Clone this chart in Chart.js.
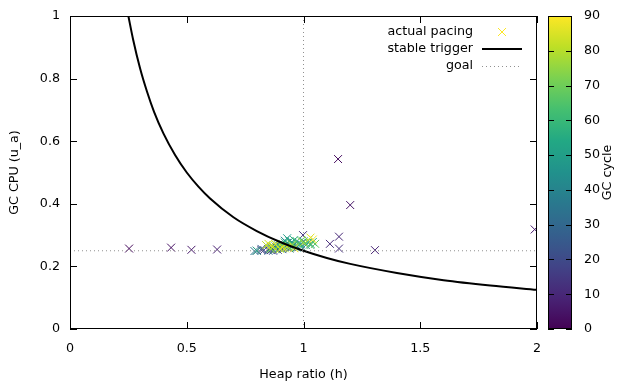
<!DOCTYPE html>
<html>
<head>
<meta charset="utf-8">
<script src="https://cdn.jsdelivr.net/npm/chart.js@4"></script>
<style>html,body{margin:0;background:#fff}</style>
</head>
<body>
<canvas id="paceChart" width="640" height="384"></canvas>
<script>
// GC cycle number of each observation
const cycles = [
  2,3,4,5,6,7,8,9,10,11,12,13,14,15,
  16,17,18,19,20,21,22,23,24,25,26,27,28,29,30,31,32,33,34,35,
  36,37,38,39,40,41,42,43,44,45,46,47,48,49,50,51,52,53,54,55,
  56,57,58,59,60,61,62,63,64,65,66,67,68,69,70,71,72,
  73,74,75,76,77,78,79,80,81,82,83,84,85,86,87,88,89,90
];
// heap ratio (h) per cycle
const heapRatio = [
  0.253,1.148,0.433,1.2,0.52,1.99,0.63,1.306,1.152,1.113,1.152,0.998,0.82,0.86,
  0.80,0.83,0.87,0.85,0.89,0.88,0.91,0.86,0.93,0.90,0.82,0.95,0.87,0.92,0.89,0.94,0.97,0.85,0.91,0.99,
  0.79,0.93,0.96,0.88,1.01,0.92,0.95,0.90,0.98,1.03,0.94,0.86,1.00,0.97,0.93,1.02,0.91,0.99,0.96,0.80,
  0.94,1.04,0.92,0.98,0.89,1.01,0.95,0.87,0.97,1.03,0.93,0.90,1.05,0.96,0.99,0.88,0.94,
  0.91,1.02,0.86,0.95,0.89,0.92,1.00,0.84,0.87,0.90,0.85,0.93,0.88,1.03,0.91,0.86,1.04,0.96
];
// GC CPU utilisation (u_a) per cycle
const gcCpu = [
  0.257,0.543,0.260,0.396,0.253,0.318,0.254,0.252,0.295,0.272,0.257,0.300,0.252,0.252,
  0.250,0.252,0.250,0.255,0.253,0.258,0.255,0.262,0.260,0.265,0.256,0.262,0.254,0.268,0.260,0.257,0.266,0.250,0.262,0.270,
  0.249,0.275,0.270,0.264,0.268,0.282,0.278,0.270,0.276,0.272,0.268,0.258,0.280,0.260,0.290,0.276,0.272,0.264,0.284,0.250,
  0.280,0.278,0.276,0.270,0.268,0.274,0.272,0.262,0.280,0.268,0.266,0.258,0.272,0.264,0.282,0.255,0.260,
  0.266,0.284,0.256,0.268,0.262,0.258,0.276,0.268,0.264,0.256,0.272,0.262,0.270,0.292,0.260,0.266,0.286,0.258
];
// stable trigger curve
const triggerH = [0.25,0.27,0.3,0.33,0.36,0.4,0.45,0.5,0.55,0.6,0.7,0.8,0.9,1.0,1.1,1.2,1.4,1.6,1.8,2.0];
const triggerU = [1.0,0.926,0.833,0.758,0.694,0.625,0.556,0.5,0.455,0.417,0.357,0.313,0.278,0.25,0.227,0.208,0.179,0.156,0.139,0.125];
// goal
const goalH = [0, 2];
const goalU = [0.25, 0.25];
const goalLineH = [1, 1];
const goalLineU = [0, 1];

const xTicks = [0, 0.5, 1, 1.5, 2];
const yTicks = [0, 0.2, 0.4, 0.6, 0.8, 1];
const cbTicks = [0, 10, 20, 30, 40, 50, 60, 70, 80, 90];
const cbMax = 90;

const FONT = {family: "'DejaVu Sans', sans-serif", size: 12.7};
const fontStr = "12.7px 'DejaVu Sans', sans-serif";

const viridisStops = ['#440154','#482475','#414487','#355f8d','#2a788e','#21918c','#22a884','#44bf70','#7ad151','#bddf26','#fde725'];

function hexRgb(h){ return [1,3,5].map(i => parseInt(h.substr(i,2),16)); }
function viridis(t){
  t = Math.max(0, Math.min(1, t));
  const p = t * (viridisStops.length - 1);
  const i = Math.min(Math.floor(p), viridisStops.length - 2);
  const f = p - i;
  const a = hexRgb(viridisStops[i]), b = hexRgb(viridisStops[i+1]);
  const c = a.map((v,k) => Math.round(v + (b[k]-v)*f));
  return 'rgb(' + c.join(',') + ')';
}

function fixTicks(vals){
  return scale => { scale.ticks = vals.map(v => ({value: v})); };
}
function fixWidth(w){
  return s => { s.width = w; s.paddingTop = 0; s.paddingBottom = 0; };
}
const fmt = v => String(Math.round(v*10)/10);

// frame, inward mirrored ticks, colour box, key
const gnuplotDecor = {
  id: 'gnuplotDecor',
  afterDraw(chart){
    const {ctx, chartArea: a, scales} = chart;
    const tl = 7;
    ctx.save();
    ctx.strokeStyle = '#000';
    ctx.lineWidth = 1;
    ctx.strokeRect(a.left + 0.5, a.top + 0.5, a.right - a.left - 1, a.bottom - a.top - 1);
    ctx.beginPath();
    xTicks.forEach(v => {
      const px = Math.round(scales.x.getPixelForValue(v)) + 0.5;
      ctx.moveTo(px, a.bottom); ctx.lineTo(px, a.bottom - tl);
      ctx.moveTo(px, a.top); ctx.lineTo(px, a.top + tl);
    });
    yTicks.forEach(v => {
      const py = Math.round(scales.y.getPixelForValue(v)) + 0.5;
      ctx.moveTo(a.left, py); ctx.lineTo(a.left + tl, py);
      ctx.moveTo(a.right, py); ctx.lineTo(a.right - tl, py);
    });
    ctx.stroke();

    // colour box
    const cb = scales.cb;
    const bx = 548, bw = 24;
    const top = cb.getPixelForValue(cbMax), bot = cb.getPixelForValue(0);
    const g = ctx.createLinearGradient(0, bot, 0, top);
    for (let i = 0; i <= 20; i++) g.addColorStop(i/20, viridis(i/20));
    ctx.fillStyle = g;
    ctx.fillRect(bx, top, bw, bot - top);
    ctx.strokeRect(bx + 0.5, top + 0.5, bw - 1, bot - top - 1);
    ctx.beginPath();
    cbTicks.forEach(v => {
      const py = Math.round(cb.getPixelForValue(v)) + 0.5;
      ctx.moveTo(bx, py); ctx.lineTo(bx + 6, py);
      ctx.moveTo(bx + bw, py); ctx.lineTo(bx + bw - 6, py);
    });
    ctx.stroke();

    ctx.fillStyle = '#000';
    ctx.font = fontStr;
    ctx.save();
    ctx.translate(608, (top + bot) / 2);
    ctx.rotate(-Math.PI / 2);
    ctx.textAlign = 'center';
    ctx.textBaseline = 'middle';
    ctx.fillText('GC cycle', 0, 0);
    ctx.restore();

    // key
    const kx = 473, sx0 = 482, sx1 = 522;
    ctx.textAlign = 'right';
    ctx.textBaseline = 'middle';
    ctx.fillText('actual pacing', kx, 32);
    ctx.fillText('stable trigger', kx, 49);
    ctx.fillText('goal', kx, 66);
    ctx.strokeStyle = viridis(1);
    ctx.beginPath();
    ctx.moveTo(498, 28); ctx.lineTo(506, 36);
    ctx.moveTo(506, 28); ctx.lineTo(498, 36);
    ctx.stroke();
    ctx.strokeStyle = '#000';
    ctx.lineWidth = 2;
    ctx.beginPath(); ctx.moveTo(sx0, 49); ctx.lineTo(sx1, 49); ctx.stroke();
    ctx.strokeStyle = '#909090';
    ctx.lineWidth = 1;
    ctx.setLineDash([1, 3]);
    ctx.beginPath(); ctx.moveTo(sx0, 66.5); ctx.lineTo(sx1, 66.5); ctx.stroke();
    ctx.restore();
  }
};

const xy = (xs, ys) => xs.map((x, i) => ({x: x, y: ys[i]}));

new Chart(document.getElementById('paceChart'), {
  type: 'scatter',
  data: {
    datasets: [
      {label: 'goal', data: xy(goalH, goalU), showLine: true, pointRadius: 0,
       borderColor: '#909090', borderWidth: 1, borderDash: [1, 3]},
      {label: 'goal-h', data: xy(goalLineH, goalLineU), showLine: true, pointRadius: 0,
       borderColor: '#909090', borderWidth: 1, borderDash: [1, 3]},
      {label: 'stable trigger', data: xy(triggerH, triggerU), showLine: true, pointRadius: 0,
       borderColor: '#000', borderWidth: 2, cubicInterpolationMode: 'monotone'},
      {label: 'actual pacing', data: xy(heapRatio, gcCpu), pointStyle: 'crossRot',
       pointRadius: 5.6, pointBorderWidth: 1,
       pointBorderColor: c => viridis(cycles[c.dataIndex] / cbMax),
       backgroundColor: 'transparent'}
    ]
  },
  options: {
    responsive: false,
    animation: false,
    layout: {padding: {top: 16, left: 0, right: 0, bottom: 0}},
    plugins: {legend: {display: false}, tooltip: {enabled: false}},
    scales: {
      x: {
        type: 'linear', min: 0, max: 2,
        afterBuildTicks: fixTicks(xTicks),
        afterFit: s => { s.height = 55; },
        grid: {display: false, drawTicks: false},
        border: {display: false},
        ticks: {font: FONT, color: '#000', padding: 12, callback: fmt, maxRotation: 0},
        title: {display: true, text: 'Heap ratio (h)', font: FONT, color: '#000', padding: {top: 0, bottom: 2}}
      },
      y: {
        type: 'linear', min: 0, max: 1,
        afterBuildTicks: fixTicks(yTicks),
        afterFit: fixWidth(70),
        grid: {display: false, drawTicks: false},
        border: {display: false},
        ticks: {font: FONT, color: '#000', padding: 10, callback: fmt},
        title: {display: true, text: 'GC CPU (u_a)', font: FONT, color: '#000', padding: {top: 7, bottom: 0}}
      },
      cb: {
        type: 'linear', axis: 'y', position: 'right', min: 0, max: cbMax,
        afterBuildTicks: fixTicks(cbTicks),
        afterFit: fixWidth(103),
        grid: {display: false, drawTicks: false},
        border: {display: false},
        ticks: {font: FONT, color: '#000', padding: 47}
      }
    }
  },
  plugins: [gnuplotDecor]
});
</script>
</body>
</html>
